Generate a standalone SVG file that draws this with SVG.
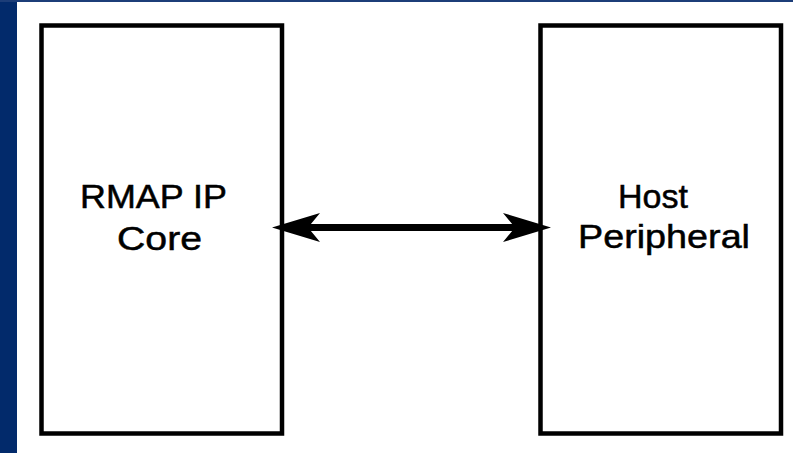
<svg xmlns="http://www.w3.org/2000/svg" width="793" height="453" viewBox="0 0 793 453">
  <style>
    .box { fill: #ffffff; stroke: #000000; stroke-width: 4.5; }
    .label { font-family: "Liberation Sans", Arial, sans-serif; font-size: 33px; fill: #000000; stroke: #000000; stroke-width: 0.5; text-anchor: start; }
    .link { stroke: #000000; stroke-width: 7; fill: none; }
  </style>
  <defs>
    <marker id="head" viewBox="0 -15 48 30" refX="12" refY="0" markerWidth="48" markerHeight="30" markerUnits="userSpaceOnUse" orient="auto-start-reverse">
      <path d="M0,-14.5 L48,0 L0,14.5 L12,0 Z" fill="#000000"/>
    </marker>
  </defs>

  <!-- page background and frame -->
  <rect x="0" y="0" width="793" height="453" fill="#ffffff"/>
  <rect x="0" y="0" width="17" height="453" fill="#022a6b"/>
  <rect x="0" y="0" width="793" height="2" fill="#1c3d78"/>

  <g id="rmap-ip-core">
    <rect class="box" x="41.5" y="25.5" width="240.5" height="408"/>
    <text class="label" x="80" y="208" textLength="147" lengthAdjust="spacingAndGlyphs">RMAP IP</text>
    <text class="label" x="117" y="250" textLength="85" lengthAdjust="spacingAndGlyphs">Core</text>
  </g>

  <g id="host-peripheral">
    <rect class="box" x="540.5" y="25.5" width="240.5" height="408"/>
    <text class="label" x="618" y="208" textLength="70" lengthAdjust="spacingAndGlyphs">Host</text>
    <text class="label" x="578" y="248" textLength="172" lengthAdjust="spacingAndGlyphs">Peripheral</text>
  </g>

  <g id="connectors">
    <line class="link" x1="308" y1="227.5" x2="515" y2="227.5" marker-start="url(#head)" marker-end="url(#head)"/>
  </g>
</svg>
